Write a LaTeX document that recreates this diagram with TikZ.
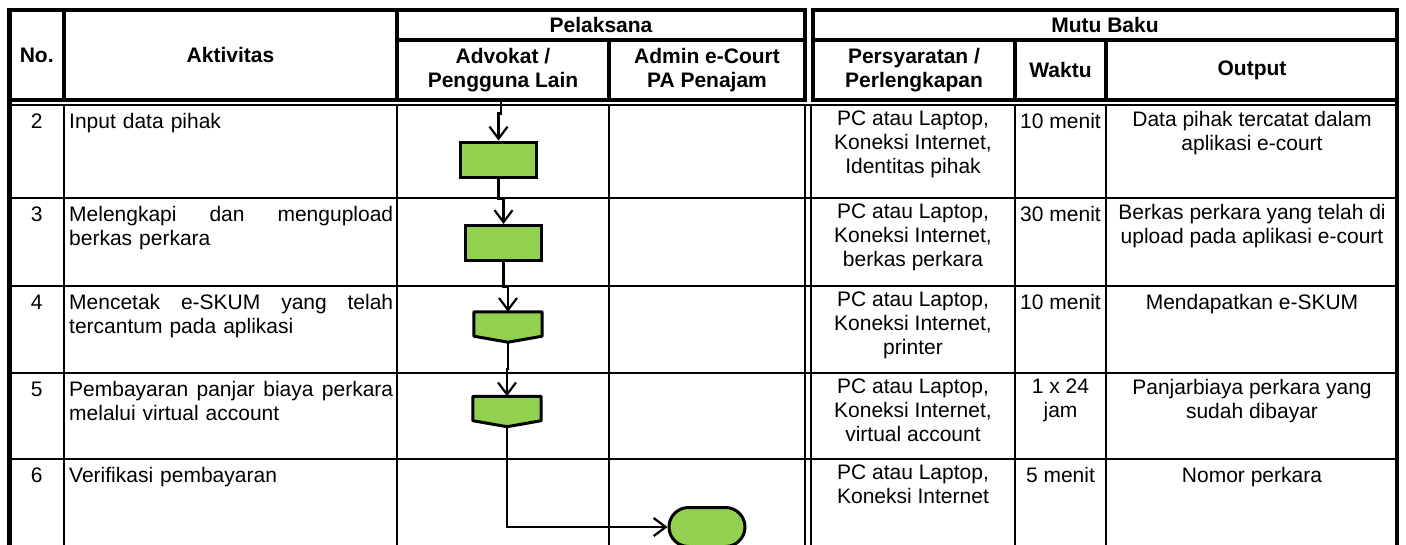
\documentclass[tikz,border=0pt]{standalone}
\usepackage{fontspec}
\setmainfont{Liberation Sans}
\usetikzlibrary{arrows.meta,shapes.misc,calc}
\definecolor{flowgreen}{RGB}{146,208,80}
\newcommand{\bodyfont}{\fontsize{21}{24}\selectfont}
\newcommand{\headfont}{\fontsize{21}{24}\selectfont\bfseries}
\tikzset{
  gridline/.style={line width=2pt, line cap=rect},
  boldline/.style={line width=4.5pt, line cap=rect},
  hdtext/.style={inner sep=0pt, align=center, font=\headfont},
  celltext/.style={anchor=north, inner sep=0pt, align=center, font=\bodyfont, execute at begin node=\strut},
  acttext/.style={anchor=north west, inner sep=0pt, text width=324pt, align=left, font=\bodyfont, execute at begin node=\strut},
  procbox/.style={draw, line width=3pt, fill=flowgreen, minimum width=76pt, minimum height=35pt, inner sep=0pt},
  shapeanchor/.style={minimum width=68pt, minimum height=30pt, inner sep=0pt},
  shapeline/.style={draw, line width=3pt, fill=flowgreen, line join=round},
  termbox/.style={rounded rectangle, draw, line width=3pt, fill=flowgreen, minimum width=76pt, minimum height=39pt, inner sep=0pt},
  flowarrow/.style={line width=2.2pt, -{Straight Barb[length=12pt,width=18pt]}},
}
\begin{document}
\begin{tikzpicture}[x=1pt,y=-1pt]
\useasboundingbox (0,0) rectangle (1406,544);
% ---------- body grid ----------
\foreach \yy in {105,198,286,373,459} {\draw[gridline] (9.5,\yy) -- (1397,\yy);}
\foreach \xx in {64,397,609,805,811,1015,1106} {\draw[gridline] (\xx,105) -- (\xx,560);}
\draw[boldline] (9.5,100) -- (9.5,560);
\draw[boldline] (1397,100) -- (1397,560);
% ---------- header ----------
\draw[boldline] (9.5,10) rectangle (397,100);
\draw[boldline] (64,10) -- (64,100);
\draw[boldline] (397,10) rectangle (805,100);
\draw[boldline] (397,40) -- (805,40);
\draw[boldline] (609,40) -- (609,100);
\draw[boldline] (813,10) rectangle (1397,100);
\draw[boldline] (813,40) -- (1397,40);
\draw[boldline] (1015,40) -- (1015,100);
\draw[boldline] (1106,40) -- (1106,100);
\node[hdtext] (hno) at (36.75,55) {No.};
\node[hdtext] (hakt) at (230.5,55) {Aktivitas};
\node[hdtext] (hpel) at (601,25) {Pelaksana};
\node[hdtext] (hadv) at (503,70) {Advokat /\\Pengguna Lain};
\node[hdtext] (hadm) at (707,70) {Admin e-Court\\PA Penajam};
\node[hdtext] (hmutu) at (1105,25) {Mutu Baku};
\node[hdtext] (hper) at (914,70) {Persyaratan /\\Perlengkapan};
\node[hdtext] (hwak) at (1060.5,70) {Waktu};
\node[hdtext] (hout) at (1252,70) {Output};
% ---------- row texts ----------
% row 2
\node[celltext] (n2) at (36.75,111) {2};
\node[acttext] (a2) at (69,111) {Input data pihak};
\node[celltext] (p2t) at (913,111) {PC atau Laptop,\\Koneksi Internet,\\Identitas pihak};
\node[celltext] (w2) at (1060.5,111) {10 menit};
\node[celltext] (o2) at (1252,111) {Data pihak tercatat dalam\\aplikasi e-court};
% row 3
\node[celltext] (n3) at (36.75,204) {3};
\node[acttext] (a3) at (69,204) {Melengkapi\hfill dan\hfill mengupload\\berkas perkara};
\node[celltext] (p3t) at (913,204) {PC atau Laptop,\\Koneksi Internet,\\berkas perkara};
\node[celltext] (w3) at (1060.5,204) {30 menit};
\node[celltext] (o3) at (1252,204) {Berkas perkara yang telah di\\upload pada aplikasi e-court};
% row 4
\node[celltext] (n4) at (36.75,292) {4};
\node[acttext] (a4) at (69,292) {Mencetak\hfill e-SKUM\hfill yang\hfill telah\\tercantum pada aplikasi};
\node[celltext] (p4t) at (913,292) {PC atau Laptop,\\Koneksi Internet,\\printer};
\node[celltext] (w4) at (1060.5,292) {10 menit};
\node[celltext] (o4) at (1252,292) {Mendapatkan e-SKUM};
% row 5
\node[celltext] (n5) at (36.75,379) {5};
\node[acttext] (a5) at (69,379) {Pembayaran\hfill panjar\hfill biaya\hfill perkara\\melalui virtual account};
\node[celltext] (p5t) at (913,379) {PC atau Laptop,\\Koneksi Internet,\\virtual account};
\node[celltext] (w5) at (1060.5,379) {1 x 24\\jam};
\node[celltext] (o5) at (1252,379) {Panjarbiaya perkara yang\\sudah dibayar};
% row 6
\node[celltext] (n6) at (36.75,465) {6};
\node[acttext] (a6) at (69,465) {Verifikasi pembayaran};
\node[celltext] (p6t) at (913,465) {PC atau Laptop,\\Koneksi Internet};
\node[celltext] (w6) at (1060.5,465) {5 menit};
\node[celltext] (o6) at (1252,465) {Nomor perkara};
% ---------- flow ----------
\node[procbox] (r1) at (498.5,159.5) {};
\node[procbox] (r2) at (503.5,243) {};
\node[shapeanchor] (f1) at (508,327) {};
\draw[shapeline] (f1.north west) -- (f1.north east) -- ($(f1.south east)+(0,-6)$) -- (f1.south) -- ($(f1.south west)+(0,-6)$) -- cycle;
\node[shapeanchor] (f2) at (507,411.5) {};
\draw[shapeline] (f2.north west) -- (f2.north east) -- ($(f2.south east)+(0,-6)$) -- (f2.south) -- ($(f2.south west)+(0,-6)$) -- cycle;
\node[termbox] (t1) at (707,527) {};
\coordinate (s0) at (501,102);
\draw[flowarrow] (s0) |- ($(s0)!0.3!(r1.north)$) -| (r1.north);
\draw[flowarrow] (r1.south) |- ($(r1.south)!0.45!(r2.north)$) -| (r2.north);
\draw[flowarrow] (r2.south) |- ($(r2.south)!0.5!(f1.north)$) -| (f1.north);
\draw[flowarrow] (f1.south) |- ($(f1.south)!0.5!(f2.north)$) -| (f2.north);
\draw[flowarrow] (f2.south) |- (t1.west);
\end{tikzpicture}
\end{document}
